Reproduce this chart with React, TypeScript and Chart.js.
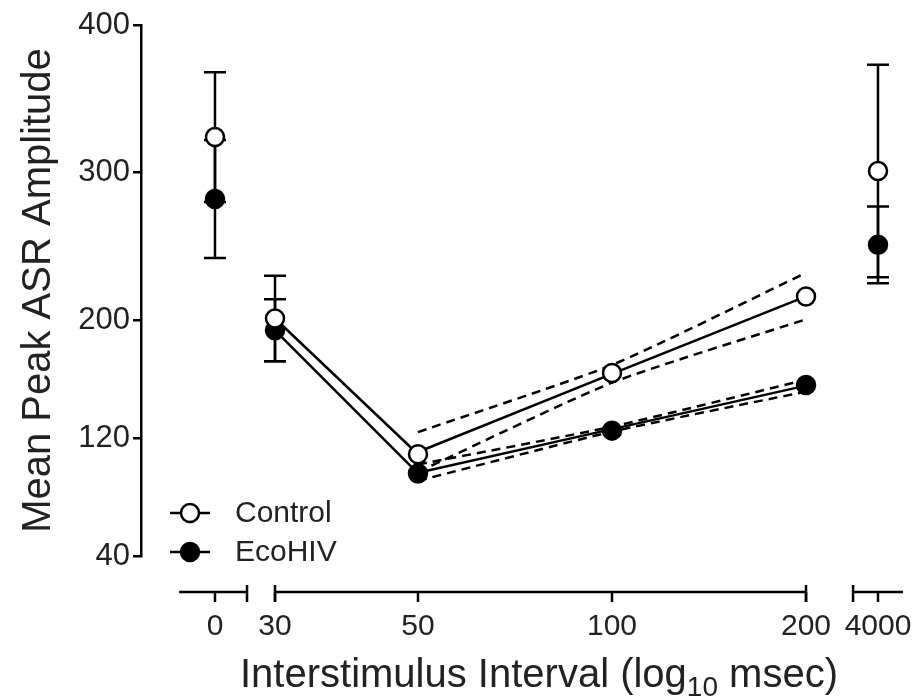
import React, { useEffect, useRef } from "react";
import { Chart, registerables } from "chart.js";

Chart.register(...registerables);

// ---------- data ----------
const isi = [0, 30, 50, 100, 200, 4000]; // interstimulus interval (msec)
const tickLabels = ["0", "30", "50", "100", "200", "4000"];
const controlMean = [324, 201, 109, 164, 216, 301];
const controlSem = [44, 29, 0, 0, 0, 72];
const ecoMean = [282, 193, 96, 125, 156, 251];
const ecoSem = [40, 21, 0, 0, 0, 26];

const fitX = [50, 100, 200];
const controlFit = [110.5, 163.5, 216];
const controlUpper = [124, 169.5, 232];
const controlLower = [97, 157.5, 200.5];
const ecoFit = [96.5, 126, 155.5];
const ecoUpper = [102, 127.7, 159.5];
const ecoLower = [91, 124.3, 151.5];

const yTicks = [40, 120, 200, 300, 400];

// ---------- layout helpers (axis in log10 units with breaks) ----------
const ZERO_POS = 1.384;
const FAR_POS = 2.4127;
const X_MIN = 1.2692;
const X_MAX = 2.4546;
const SEG1 = [1.3283, 1.4337];
const SEG3 = [2.374, 2.4515];
const xPos = (v: number) => (v === 0 ? ZERO_POS : v === 4000 ? FAR_POS : Math.log10(v));

const FONT = "'Liberation Sans', Arial, Helvetica, sans-serif";
const TEXT = "#222";

const pts = (xs: number[], ys: number[]) => xs.map((v, i) => ({ x: xPos(v), y: ys[i] }));

const overlay = {
  id: "overlay",
  beforeDatasetsDraw(chart: any) {
    const { ctx } = chart;
    const xs = chart.scales.x;
    const ys = chart.scales.y;
    ctx.save();
    ctx.strokeStyle = "#000";
    ctx.lineWidth = 2.5;
    const drawBars = (means: number[], sems: number[]) => {
      isi.forEach((v, i) => {
        if (!sems[i]) return;
        const px = xs.getPixelForValue(xPos(v));
        const top = ys.getPixelForValue(means[i] + sems[i]);
        const bot = ys.getPixelForValue(means[i] - sems[i]);
        ctx.beginPath();
        ctx.moveTo(px, top);
        ctx.lineTo(px, bot);
        ctx.moveTo(px - 11, top);
        ctx.lineTo(px + 11, top);
        ctx.moveTo(px - 11, bot);
        ctx.lineTo(px + 11, bot);
        ctx.stroke();
      });
    };
    drawBars(controlMean, controlSem);
    drawBars(ecoMean, ecoSem);
    ctx.restore();
  },
  afterDraw(chart: any) {
    const { ctx } = chart;
    const xs = chart.scales.x;
    const axisY = 592;
    ctx.save();
    ctx.strokeStyle = "#000";
    ctx.lineWidth = 2.5;
    const P = (u: number) => xs.getPixelForValue(u);
    // segmented x axis
    const segs = [SEG1, [Math.log10(30), Math.log10(200)], SEG3];
    segs.forEach(([a, b]) => {
      ctx.beginPath();
      ctx.moveTo(P(a), axisY);
      ctx.lineTo(P(b), axisY);
      ctx.stroke();
    });
    // break caps
    [SEG1[1], Math.log10(30), Math.log10(200), SEG3[0]].forEach((u) => {
      ctx.beginPath();
      ctx.moveTo(P(u), axisY - 7);
      ctx.lineTo(P(u), axisY + 10);
      ctx.stroke();
    });
    // ticks + labels
    ctx.fillStyle = TEXT;
    ctx.font = `30px ${FONT}`;
    ctx.textAlign = "center";
    ctx.textBaseline = "middle";
    isi.forEach((v, i) => {
      const px = P(xPos(v));
      ctx.beginPath();
      ctx.moveTo(px, axisY);
      ctx.lineTo(px, axisY + 10);
      ctx.stroke();
      ctx.fillText(tickLabels[i], px, 627);
    });
    // x title with subscript
    const part1 = "Interstimulus Interval (log";
    const sub = "10";
    const part2 = " msec)";
    const big = `40px ${FONT}`;
    const small = `28px ${FONT}`;
    ctx.font = big;
    const w1 = ctx.measureText(part1).width;
    const w3 = ctx.measureText(part2).width;
    ctx.font = small;
    const w2 = ctx.measureText(sub).width;
    const total = w1 + w2 + w3;
    let sx = 539 - total / 2;
    const base = 687;
    ctx.textAlign = "left";
    ctx.textBaseline = "alphabetic";
    ctx.font = big;
    ctx.fillText(part1, sx, base);
    sx += w1;
    ctx.font = small;
    ctx.fillText(sub, sx, base + 9);
    sx += w2;
    ctx.font = big;
    ctx.fillText(part2, sx, base);

    // legend
    const legend = [
      { label: "Control", fill: "#fff", y: 513 },
      { label: "EcoHIV", fill: "#000", y: 552 },
    ];
    legend.forEach((l) => {
      ctx.lineWidth = 2.5;
      ctx.strokeStyle = "#000";
      ctx.beginPath();
      ctx.moveTo(170, l.y);
      ctx.lineTo(210, l.y);
      ctx.stroke();
      ctx.beginPath();
      ctx.arc(190, l.y, 9, 0, Math.PI * 2);
      ctx.fillStyle = l.fill;
      ctx.fill();
      ctx.stroke();
      ctx.fillStyle = TEXT;
      ctx.font = `30px ${FONT}`;
      ctx.textBaseline = "middle";
      ctx.fillText(l.label, 235, l.y + 1);
    });
    ctx.restore();
  },
};

export default function App() {
  const ref = useRef<HTMLCanvasElement>(null);
  useEffect(() => {
    const hidden = "rgba(0,0,0,0)";
    const fitStyle = { pointRadius: 0, borderColor: "#000", borderWidth: 2.5, fill: false, order: 2 };
    const bandStyle = { ...fitStyle, borderWidth: 2.5, borderDash: [9, 6], tension: 0.2 };
    const chart = new Chart(ref.current!, {
      type: "line",
      data: {
        datasets: [
          {
            label: "Control",
            data: pts(isi, controlMean),
            borderColor: "#000",
            borderWidth: 2.5,
            pointRadius: 9,
            pointBorderWidth: 2.5,
            pointBackgroundColor: "#fff",
            pointBorderColor: "#000",
            order: 1,
            segment: { borderColor: (c: any) => (c.p0DataIndex === 1 ? "#000" : hidden) },
          },
          {
            label: "EcoHIV",
            data: pts(isi, ecoMean),
            borderColor: "#000",
            borderWidth: 2.5,
            pointRadius: 9,
            pointBorderWidth: 2.5,
            pointBackgroundColor: "#000",
            pointBorderColor: "#000",
            order: 1,
            segment: { borderColor: (c: any) => (c.p0DataIndex === 1 ? "#000" : hidden) },
          },
          { label: "Control fit", data: pts(fitX, controlFit), ...fitStyle },
          { label: "Control upper", data: pts(fitX, controlUpper), ...bandStyle },
          { label: "Control lower", data: pts(fitX, controlLower), ...bandStyle },
          { label: "EcoHIV fit", data: pts(fitX, ecoFit), ...fitStyle },
          { label: "EcoHIV upper", data: pts(fitX, ecoUpper), ...bandStyle },
          { label: "EcoHIV lower", data: pts(fitX, ecoLower), ...bandStyle },
        ] as any,
      },
      options: {
        responsive: false,
        maintainAspectRatio: false,
        animation: false,
        devicePixelRatio: 1,
        layout: { padding: { left: 15, right: 12, top: 25, bottom: 142 } },
        plugins: { legend: { display: false }, tooltip: { enabled: false } },
        scales: {
          x: { type: "linear", display: false, min: X_MIN, max: X_MAX },
          y: {
            type: "linear",
            min: 40,
            max: 400,
            afterBuildTicks: (s: any) => {
              s.ticks = yTicks.map((v) => ({ value: v }));
            },
            afterFit: (s: any) => {
              s.width = 126;
            },
            ticks: { font: { family: FONT, size: 31 }, color: TEXT, padding: 3 },
            grid: { drawOnChartArea: false, drawTicks: true, tickLength: 8, color: "#000", lineWidth: 2.5 },
            border: { display: true, color: "#000", width: 2.5 },
            title: {
              display: true,
              text: "Mean Peak ASR Amplitude",
              font: { family: FONT, size: 40 },
              color: TEXT,
              padding: { top: 0, bottom: 0 },
            },
          },
        },
      },
      plugins: [overlay],
    } as any);
    return () => chart.destroy();
  }, []);
  return (
    <div style={{ position: "fixed", left: 0, top: 0, width: 917, height: 698, background: "#fff" }}>
      <canvas ref={ref} width={917} height={698} style={{ display: "block", width: 917, height: 698 }} />
    </div>
  );
}
